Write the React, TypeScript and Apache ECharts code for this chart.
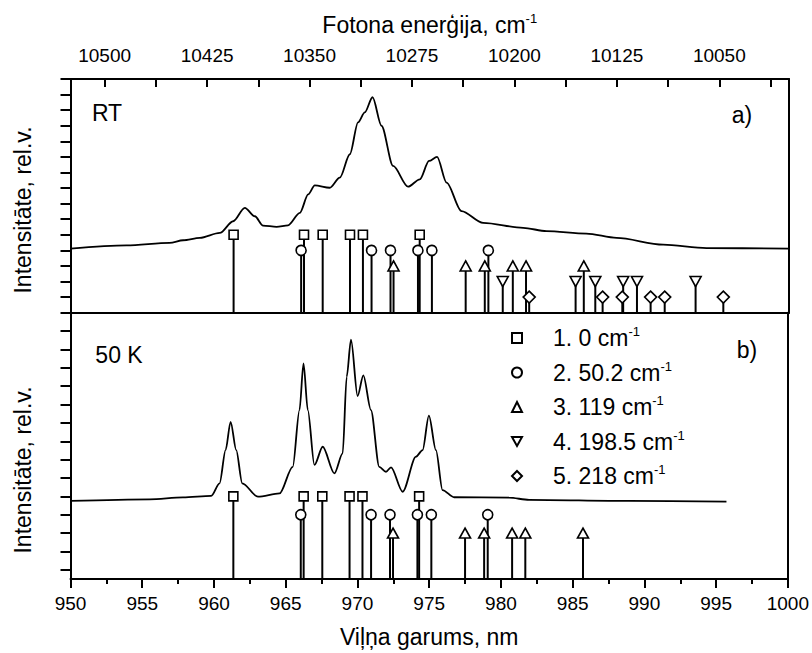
import React, { useEffect, useRef } from "react";
import * as echarts from "echarts";

// ---------- data ----------
const X_RANGE = [950, 1000];
const TOP_AXIS_RANGE = [9999, 10525];
const TOP_LABEL_VALUES = [10500, 10425, 10350, 10275, 10200, 10125, 10050];
const TOP_TICK_VALUES = [10500, 10462.5, 10425, 10387.5, 10350, 10312.5, 10275, 10237.5, 10200, 10162.5, 10125, 10087.5, 10050, 10012.5];

const RT_WAVELENGTH = [950, 953.9, 956.9, 957.84, 959.0, 960.39, 961.32, 962.13, 962.83, 963.4, 964.34, 965.14, 965.96, 966.54, 967.0, 968.04, 968.74, 969.44, 970.01, 970.48, 971.02, 971.64, 972.45, 973.49, 974.31, 974.95, 975.51, 976.17, 977.21, 978.71, 981.5, 983.12, 985.9, 988.0, 991.24, 994.26, 1000];
const RT_INTENSITY = [4.11, 4.32, 4.48, 4.65, 4.8, 5.12, 5.87, 6.73, 6.19, 5.59, 5.51, 5.61, 6.41, 7.59, 8.17, 8.02, 8.67, 10.17, 12.22, 12.86, 13.83, 12.0, 9.42, 8.09, 8.56, 9.74, 10.0, 8.35, 6.52, 5.77, 5.45, 5.23, 5.08, 4.8, 4.37, 4.15, 4.11];

const K50_WAVELENGTH = [950, 955.52, 957.84, 959.81, 960.39, 960.81, 961.16, 961.55, 961.97, 963.06, 964.57, 965.49, 965.96, 966.24, 966.54, 967.0, 967.58, 968.39, 968.97, 969.25, 969.55, 970.01, 970.41, 970.94, 971.52, 971.99, 972.34, 973.15, 974.08, 974.54, 974.98, 975.47, 975.93, 976.74, 980.57, 981.96, 988.92, 995.72];
const K50_INTENSITY = [4.25, 4.34, 4.44, 4.53, 5.21, 7.02, 8.56, 7.02, 5.21, 4.48, 4.66, 6.11, 9.2, 11.74, 9.2, 6.21, 7.2, 5.75, 6.84, 11.01, 13.03, 9.96, 11.09, 9.2, 6.11, 5.84, 6.08, 4.75, 6.66, 7.02, 8.9, 7.02, 4.84, 4.45, 4.43, 4.31, 4.25, 4.21];

const SQUARE_WL = [961.35, 966.25, 967.55, 969.45, 970.35, 974.3];
const CIRCLE_WL = [966.05, 970.95, 972.27, 974.18, 975.15, 979.08];
const TRIANGLE_WL = [972.48, 977.5, 978.83, 980.78, 981.7, 985.72];
const INV_TRIANGLE_WL = [980.08, 985.15, 986.52, 988.46, 989.42, 993.5];
const DIAMOND_WL = [981.92, 987.03, 988.4, 990.37, 991.35, 995.43];

const LEGEND_LABELS = ["1. 0", "2. 50.2", "3. 119", "4. 198.5", "5. 218"];
const RT_LEVELS = [5, 4, 3, 2, 1];
const K50_LEVELS = [4.5, 3.5, 2.5];
const K50_TICKS = [0.5, 1.5, 2.5, 3.5, 4.5, 5.5, 6.5, 7.5, 8.5, 9.5, 10.5, 11.5, 12.5, 13.5];

// ---------- styles ----------
const FONT = "'Liberation Sans', Arial, sans-serif";
const BLACK = "#000";
const INV_TRIANGLE_ICON = "path://M0,0L10,0L5,9Z";

const MARKERS = [
  { wl: SQUARE_WL, symbol: "rect", size: [9, 9], rotate: 0, icon: "rect" },
  { wl: CIRCLE_WL, symbol: "circle", size: [10, 10], rotate: 0, icon: "circle" },
  { wl: TRIANGLE_WL, symbol: "triangle", size: [11, 10], rotate: 0, icon: "triangle" },
  { wl: INV_TRIANGLE_WL, symbol: "triangle", size: [11, 10], rotate: 180, icon: INV_TRIANGLE_ICON },
  { wl: DIAMOND_WL, symbol: "diamond", size: [12, 12], rotate: 0, icon: "diamond" },
];

const legendName = (i: number) => LEGEND_LABELS[i] + " cm-1";

function stickSeries(data: number[][], xi: number, yi: number) {
  return {
    type: "custom",
    xAxisIndex: xi,
    yAxisIndex: yi,
    z: 3,
    silent: true,
    encode: { x: 0, y: 1 },
    data,
    renderItem: (_p: any, api: any) => {
      const x = api.value(0);
      const h = api.value(1);
      const p0 = api.coord([x, 0]);
      const p1 = api.coord([x, h]);
      return {
        type: "line",
        shape: { x1: p0[0], y1: p0[1], x2: p1[0], y2: p1[1] },
        style: { stroke: BLACK, lineWidth: 2 },
      };
    },
  };
}

function markerSeries(i: number, data: number[][], xi: number, yi: number) {
  const m = MARKERS[i];
  return {
    type: "scatter",
    name: legendName(i),
    xAxisIndex: xi,
    yAxisIndex: yi,
    z: 4,
    symbol: m.symbol,
    symbolSize: m.size,
    symbolRotate: m.rotate,
    itemStyle: { color: "#fff", borderColor: BLACK, borderWidth: 1.6, opacity: 1 },
    data,
  };
}

function buildOption() {
  const series: any[] = [];
  series.push({
    type: "line",
    xAxisIndex: 0,
    yAxisIndex: 0,
    data: RT_WAVELENGTH.map((x, i) => [x, RT_INTENSITY[i]]),
    symbol: "none",
    smooth: 0.3,
    smoothMonotone: "x",
    lineStyle: { color: BLACK, width: 1.8 },
    z: 2,
  });
  series.push({
    type: "line",
    xAxisIndex: 2,
    yAxisIndex: 2,
    data: K50_WAVELENGTH.map((x, i) => [x, K50_INTENSITY[i]]),
    symbol: "none",
    smooth: 0.3,
    smoothMonotone: "x",
    lineStyle: { color: BLACK, width: 1.8 },
    z: 2,
  });
  MARKERS.forEach((m, i) => {
    const d = m.wl.map((x) => [x, RT_LEVELS[i]]);
    series.push(stickSeries(d, 0, 0));
    series.push(markerSeries(i, d, 0, 0));
  });
  K50_LEVELS.forEach((lvl, i) => {
    const d = MARKERS[i].wl.map((x) => [x, lvl]);
    series.push(stickSeries(d, 2, 2));
    series.push(markerSeries(i, d, 2, 2));
  });

  const axisLine = { show: true, onZero: false, lineStyle: { color: BLACK, width: 2 } };
  const supRich = { sup: { fontSize: 13, fontFamily: FONT, verticalAlign: "top", lineHeight: 13, color: BLACK } };
  const plain = (v: number) => String(v);

  return {
    animation: false,
    backgroundColor: "#fff",
    grid: [
      { left: 70.5, right: 23, top: 79, height: 233.7 },
      { left: 70.5, right: 23, top: 312.7, height: 266.3 },
    ],
    xAxis: [
      {
        gridIndex: 0, type: "value", min: X_RANGE[0], max: X_RANGE[1], position: "bottom",
        axisLine, axisTick: { show: false }, axisLabel: { show: false }, splitLine: { show: false },
      },
      {
        gridIndex: 0, type: "value", min: TOP_AXIS_RANGE[0], max: TOP_AXIS_RANGE[1], inverse: true, position: "top",
        axisLine,
        axisTick: { show: true, inside: true, length: 8, customValues: TOP_TICK_VALUES, lineStyle: { color: BLACK, width: 2 } },
        axisLabel: { show: true, customValues: TOP_LABEL_VALUES, formatter: plain, margin: 14, fontSize: 19, fontFamily: FONT, color: BLACK },
        splitLine: { show: false },
        name: "Fotona enerģija, cm{sup|-1}",
        nameLocation: "middle",
        nameGap: 41,
        nameTextStyle: { fontSize: 23, fontFamily: FONT, color: BLACK, lineHeight: 26, rich: supRich },
      },
      {
        gridIndex: 1, type: "value", min: X_RANGE[0], max: X_RANGE[1], interval: 5, position: "bottom",
        axisLine,
        axisTick: { show: true, inside: false, length: 9, lineStyle: { color: BLACK, width: 2 } },
        minorTick: { show: true, splitNumber: 2, length: 5, lineStyle: { color: BLACK, width: 2 } },
        axisLabel: { show: true, formatter: plain, margin: 15, fontSize: 19, fontFamily: FONT, color: BLACK, showMinLabel: true, showMaxLabel: true },
        splitLine: { show: false },
        minorSplitLine: { show: false },
        name: "Viļņa garums, nm",
        nameLocation: "middle",
        nameGap: 46,
        nameTextStyle: { fontSize: 23, fontFamily: FONT, color: BLACK },
      },
    ],
    yAxis: [
      {
        gridIndex: 0, type: "value", min: 0, max: 15, interval: 1, position: "left",
        axisLine, axisTick: { show: true, inside: false, length: 10, lineStyle: { color: BLACK, width: 2 } },
        axisLabel: { show: false }, splitLine: { show: false },
      },
      {
        gridIndex: 0, type: "value", min: 0, max: 15, position: "right",
        axisLine, axisTick: { show: false }, axisLabel: { show: false }, splitLine: { show: false },
      },
      {
        gridIndex: 1, type: "value", min: 0, max: 14.5, position: "left",
        axisLine, axisTick: { show: true, inside: false, length: 10, customValues: K50_TICKS, lineStyle: { color: BLACK, width: 2 } },
        axisLabel: { show: false }, splitLine: { show: false },
      },
      {
        gridIndex: 1, type: "value", min: 0, max: 14.5, position: "right",
        axisLine, axisTick: { show: false }, axisLabel: { show: false }, splitLine: { show: false },
      },
    ],
    legend: {
      orient: "vertical",
      left: 511,
      top: 325,
      padding: 0,
      itemWidth: 10,
      itemHeight: 10,
      itemGap: 8.5,
      selectedMode: false,
      data: LEGEND_LABELS.map((_, i) => ({ name: legendName(i), icon: MARKERS[i].icon })),
      formatter: (name: string) => "{gap| }" + name.replace(" cm-1", " cm{sup|-1}"),
      textStyle: {
        fontSize: 23, fontFamily: FONT, color: BLACK, lineHeight: 26,
        rich: {
          gap: { width: 26, fontSize: 23, lineHeight: 26 },
          sup: { fontSize: 13, fontFamily: FONT, verticalAlign: "top", lineHeight: 13, color: BLACK },
        },
      },
    },
    graphic: [
      { type: "text", x: 107, y: 113, style: { text: "RT", fontSize: 23, fontFamily: FONT, fill: BLACK, textAlign: "center", textVerticalAlign: "middle" } },
      { type: "text", x: 742, y: 115, style: { text: "a)", fontSize: 23, fontFamily: FONT, fill: BLACK, textAlign: "center", textVerticalAlign: "middle" } },
      { type: "text", x: 119, y: 355, style: { text: "50 K", fontSize: 23, fontFamily: FONT, fill: BLACK, textAlign: "center", textVerticalAlign: "middle" } },
      { type: "text", x: 747, y: 350, style: { text: "b)", fontSize: 23, fontFamily: FONT, fill: BLACK, textAlign: "center", textVerticalAlign: "middle" } },
      { type: "text", x: 23, y: 210, rotation: Math.PI / 2, style: { text: "Intensitāte, rel.v.", fontSize: 23, fontFamily: FONT, fill: BLACK, textAlign: "center", textVerticalAlign: "middle" } },
      { type: "text", x: 23, y: 470, rotation: Math.PI / 2, style: { text: "Intensitāte, rel.v.", fontSize: 23, fontFamily: FONT, fill: BLACK, textAlign: "center", textVerticalAlign: "middle" } },
    ],
    series,
  };
}

export default function App() {
  const ref = useRef<HTMLDivElement>(null);
  useEffect(() => {
    if (!ref.current) return;
    const chart = echarts.init(ref.current, undefined, { renderer: "svg" });
    chart.setOption(buildOption() as any);
    return () => chart.dispose();
  }, []);
  return <div ref={ref} style={{ position: "fixed", left: 0, top: 0, width: 812, height: 653, background: "#fff" }} />;
}
